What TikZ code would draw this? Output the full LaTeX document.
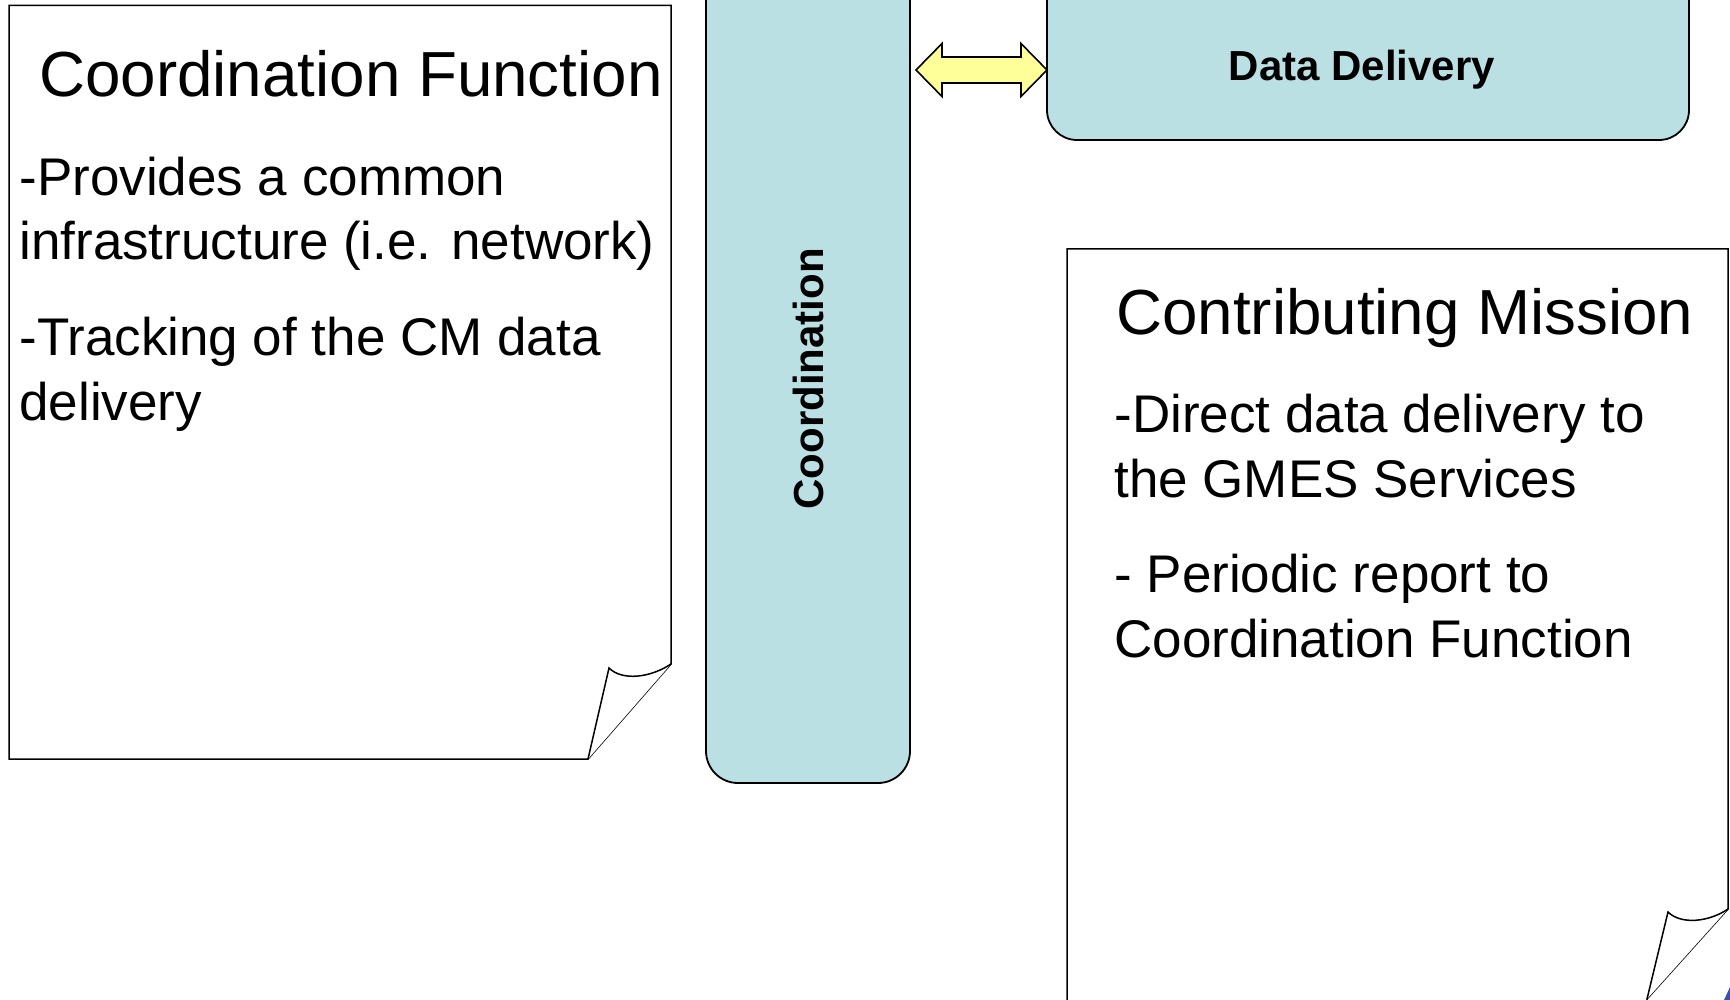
\documentclass[tikz,border=0pt]{standalone}
\usepackage{fontspec}
\setmainfont{Liberation Sans}
\usetikzlibrary{positioning}
\definecolor{barblue}{RGB}{187,224,227}
\definecolor{arrowyellow}{RGB}{255,255,153}
\definecolor{cornerblue}{RGB}{60,80,170}
\tikzstyle{sheet} = [draw, fill=white, line width=0.75pt, line join=miter]
\tikzstyle{bar} = [draw, fill=barblue, line width=0.9pt, rounded corners=16pt]
\tikzstyle{heading} = [anchor=base west, inner sep=0pt, font=\fontsize{31.85}{38}\selectfont]
\tikzstyle{bullet} = [anchor=base west, inner sep=0pt, align=left, font=\fontsize{26.5}{32.25}\selectfont]
\tikzstyle{tag} = [inner sep=0pt, anchor=base, font=\fontsize{21}{25}\selectfont\bfseries]
\tikzstyle{shaft} = [draw, fill=arrowyellow, line width=0.8pt, line join=miter]

\begin{document}
\begin{tikzpicture}[x=0.5pt, y=-0.5pt]
    \useasboundingbox (0, 0) rectangle (1730, 1000);

    % Coordination function sheet.
    \draw [sheet] (9, 5.5) -- (671, 5.5) -- (671, 664) -- (588, 759) -- (9, 759) -- cycle;
    \draw [sheet] (588, 759) -- (609, 668) .. controls (622, 681) and (650, 678) .. (671, 664);

    % Base of a two line item is its last line.
    \node (cf title) [heading] at (39, 97) {Coordination Function};
    \node (cf item 1) [bullet] at (19, 260) {-Provides a common\\infrastructure (i.e. network)};
    \node (cf item 2) [bullet] at (19, 420) {-Tracking of the CM data\\delivery};

    % Coordination bar.
    \draw [bar] (706, -40) rectangle (910, 783);
    \node (coord) [tag, rotate=90] at (823, 379) {Coordination};

    % Data delivery box.
    \draw [bar, rounded corners=15pt] (1047, -40) rectangle (1689, 140);
    \node (delivery) [tag] at (1362, 81) {Data Delivery};

    % Double arrow.
    \draw [shaft] (916, 70) -- (942, 43.5) -- (942, 57) -- (1021, 57) -- (1021, 43.5)
        -- (1047, 70) -- (1021, 96.5) -- (1021, 83) -- (942, 83) -- (942, 96.5) -- cycle;

    % Contributing mission sheet.
    \draw [sheet] (1067, 1001) -- (1067, 249) -- (1728, 249) -- (1728, 909) -- (1647, 999) -- (1647, 1001);
    \draw [sheet] (1647, 999) -- (1668, 912) .. controls (1681, 925) and (1709, 922) .. (1728, 909);

    \node (cm title) [heading] at (1116, 335) {Contributing Mission};
    \node (cm item 1) [bullet] at (1114, 497) {-Direct data delivery to\\the GMES Services};
    \node (cm item 2) [bullet] at (1114, 657) {- Periodic report to\\Coordination Function};

    % Corner.
    \fill [cornerblue] (1724, 1000) -- (1730, 987) -- (1730, 1000) -- cycle;
\end{tikzpicture}
\end{document}
